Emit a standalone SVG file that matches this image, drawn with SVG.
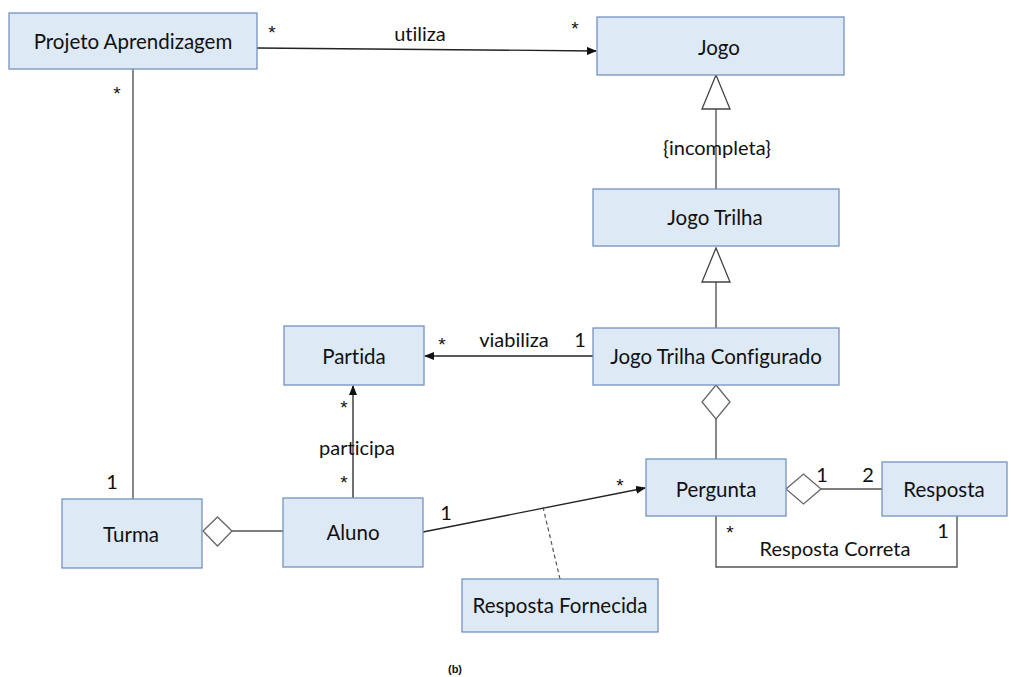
<svg xmlns="http://www.w3.org/2000/svg" width="1011" height="677" viewBox="0 0 1011 677">
<defs>
<style>
.box{fill:#dee9f6;stroke:#7393c0;stroke-width:1.3}
.t{font-family:Lato,"Liberation Sans",sans-serif;font-size:20.5px;fill:#111;text-anchor:middle;dominant-baseline:central;font-variant-ligatures:none}
.m{font-family:Lato,"Liberation Sans",sans-serif;font-size:20px;fill:#111;text-anchor:middle;dominant-baseline:central;font-variant-ligatures:none}
.s{font-family:"Liberation Sans",sans-serif;font-size:19px;fill:#111;text-anchor:middle;dominant-baseline:central}
.ln{fill:none;stroke:#555;stroke-width:1.4}
.ar{fill:none;stroke:#222;stroke-width:1.3}
.gen{fill:#fff;stroke:#444;stroke-width:1.3}
.dia{fill:#fff;stroke:#666;stroke-width:1.3}
</style>
<marker id="arr" markerWidth="10" markerHeight="8" refX="9" refY="4" orient="auto" markerUnits="userSpaceOnUse">
<path d="M0,0 L10,4 L0,8 z" fill="#111"/>
</marker>
</defs>
<rect width="1011" height="677" fill="#fff"/>
<g id="connectors">
<line class="ar" x1="257" y1="48" x2="596" y2="51" marker-end="url(#arr)"/>
<line class="ln" x1="716" y1="109" x2="716" y2="189"/>
<polygon class="gen" points="716,75 730,109 702,109"/>
<line class="ln" x1="716" y1="282" x2="716" y2="328"/>
<polygon class="gen" points="716,248 730,282 702,282"/>
<line class="ar" x1="593" y1="356" x2="425" y2="356" marker-end="url(#arr)"/>
<line class="ar" x1="353" y1="498" x2="353" y2="386" marker-end="url(#arr)"/>
<line class="ln" x1="133" y1="69" x2="133" y2="499"/>
<line class="ln" x1="232" y1="531" x2="283" y2="531"/>
<polygon class="dia" points="203,531 217.5,517 232,531 217.5,546"/>
<line class="ar" x1="423" y1="532" x2="645" y2="488" marker-end="url(#arr)"/>
<line x1="543" y1="507" x2="560" y2="579" stroke="#555" stroke-width="1.2" stroke-dasharray="4,3"/>
<line class="ln" x1="716" y1="419" x2="716" y2="459"/>
<polygon class="dia" points="716,385 730,402 716,419 702,402"/>
<line class="ln" x1="821" y1="489" x2="882" y2="489"/>
<polygon class="dia" points="786,489 803.5,474 821,489 803.5,504"/>
<polyline class="ln" points="716,516 716,567 957,567 957,516"/>
</g>
<g id="labels">
<text class="s" x="272" y="32">*</text>
<text class="m" x="420" y="33">utiliza</text>
<text class="s" x="575" y="28">*</text>
<text class="s" x="117" y="93">*</text>
<text class="m" x="717" y="147">{incompleta}</text>
<text class="s" x="442" y="344">*</text>
<text class="m" x="514" y="339">viabiliza</text>
<text class="m" x="580" y="339">1</text>
<text class="s" x="344" y="407">*</text>
<text class="m" x="357" y="447">participa</text>
<text class="s" x="344" y="482">*</text>
<text class="m" x="112" y="481">1</text>
<text class="m" x="446" y="512">1</text>
<text class="s" x="620" y="485">*</text>
<text class="m" x="822" y="474">1</text>
<text class="m" x="868" y="474">2</text>
<text class="s" x="730" y="532">*</text>
<text class="m" x="943" y="530">1</text>
<text class="m" x="835" y="548">Resposta Correta</text>
</g>
<g id="projeto"><rect class="box" x="9" y="13" width="248" height="56"/><text class="t" x="133" y="41">Projeto Aprendizagem</text></g>
<g id="jogo"><rect class="box" x="597" y="17" width="247" height="58"/><text class="t" x="719" y="47">Jogo</text></g>
<g id="jogotrilha"><rect class="box" x="593" y="189" width="246" height="57"/><text class="t" x="715" y="217">Jogo Trilha</text></g>
<g id="jtc"><rect class="box" x="593" y="328" width="246" height="57"/><text class="t" x="716" y="356">Jogo Trilha Configurado</text></g>
<g id="partida"><rect class="box" x="284" y="326" width="140" height="59"/><text class="t" x="354" y="356">Partida</text></g>
<g id="turma"><rect class="box" x="62" y="499" width="140" height="69"/><text class="t" x="131" y="534">Turma</text></g>
<g id="aluno"><rect class="box" x="283" y="498" width="140" height="69"/><text class="t" x="353" y="532">Aluno</text></g>
<g id="pergunta"><rect class="box" x="646" y="459" width="140" height="57"/><text class="t" x="716" y="489">Pergunta</text></g>
<g id="resposta"><rect class="box" x="882" y="462" width="125" height="54"/><text class="t" x="944" y="489">Resposta</text></g>
<g id="respfornecida"><rect class="box" x="462" y="579" width="196" height="53"/><text class="t" x="560" y="605">Resposta Fornecida</text></g>
<text x="455" y="673" font-family="Liberation Sans,Arial,sans-serif" font-size="11" font-weight="bold" text-anchor="middle" fill="#111">(b)</text>
</svg>
